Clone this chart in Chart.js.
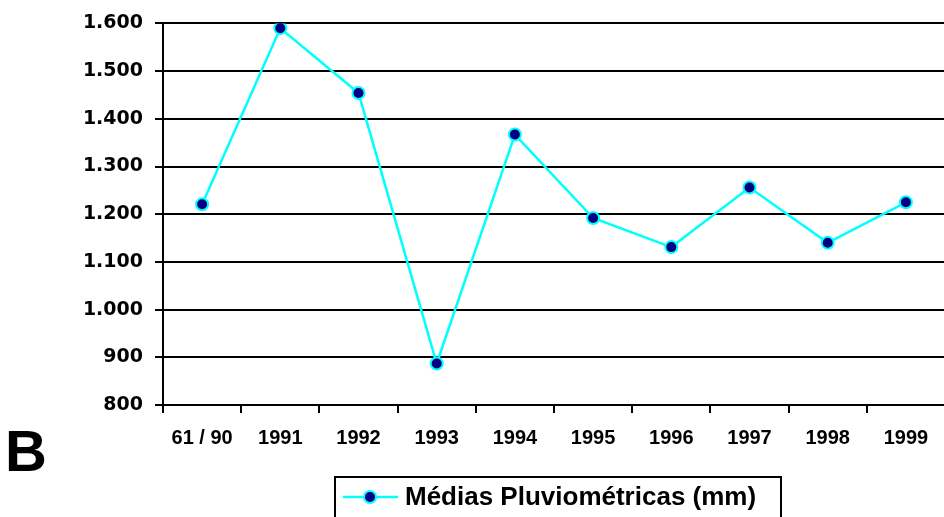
<!DOCTYPE html>
<html>
<head>
<meta charset="utf-8">
<script src="https://cdn.jsdelivr.net/npm/chart.js@4"></script>
<style>
  html, body { margin: 0; padding: 0; background: #fff; overflow: hidden; width: 944px; height: 517px; }
  #wrap { position: relative; width: 953px; height: 517px; }
</style>
</head>
<body>
<div id="wrap"><canvas id="grafico" width="953" height="517"></canvas></div>
<script>
// dados
const anos = ['61 / 90', '1991', '1992', '1993', '1994', '1995', '1996', '1997', '1998', '1999'];
const medias = [1221, 1590, 1454, 887, 1367, 1192, 1131, 1256, 1140, 1225];
const rotuloSerie = 'Médias Pluviométricas (mm)';
const letraPainel = 'B';

// formata 1600 -> 1.600
function formataMilhar(v) {
    return String(v).replace(/\B(?=(\d{3})+(?!\d))/g, '.');
}

// legenda com caixa e a letra do painel
const extras = {
    id: 'extras',
    afterDraw(chart) {
        const ctx = chart.ctx;
        const ds = chart.data.datasets[0];
        ctx.save();
        // letra B
        ctx.fillStyle = '#000';
        ctx.font = 'bold 58px "Liberation Sans", Arial, sans-serif';
        ctx.textBaseline = 'alphabetic';
        ctx.textAlign = 'left';
        ctx.fillText(letraPainel, 5, 471);

        // caixa da legenda (cortada embaixo)
        ctx.strokeStyle = '#000';
        ctx.lineWidth = 2;
        ctx.beginPath();
        ctx.moveTo(335, 530);
        ctx.lineTo(335, 477);
        ctx.lineTo(781, 477);
        ctx.lineTo(781, 530);
        ctx.stroke();

        // amostra da linha
        ctx.strokeStyle = ds.borderColor;
        ctx.lineWidth = ds.borderWidth;
        ctx.beginPath();
        ctx.moveTo(343, 497);
        ctx.lineTo(398, 497);
        ctx.stroke();
        ctx.beginPath();
        ctx.arc(370, 497, ds.pointRadius, 0, Math.PI * 2);
        ctx.fillStyle = ds.pointBackgroundColor;
        ctx.fill();
        ctx.lineWidth = ds.pointBorderWidth;
        ctx.strokeStyle = ds.pointBorderColor;
        ctx.stroke();

        ctx.fillStyle = '#000';
        ctx.font = 'bold 26px "Liberation Sans", Arial, sans-serif';
        ctx.textBaseline = 'middle';
        ctx.fillText(ds.label, 405, 498);
        ctx.restore();
    }
};

new Chart(document.getElementById('grafico'), {
    type: 'line',
    data: {
        labels: anos,
        datasets: [{
            label: rotuloSerie,
            data: medias,
            borderColor: '#00FFFF',
            borderWidth: 2.5,
            pointRadius: 6,
            pointBackgroundColor: '#000080',
            pointBorderColor: '#00FFFF',
            pointBorderWidth: 2,
            tension: 0
        }]
    },
    options: {
        responsive: false,
        animation: false,
        layout: { padding: { top: 20, left: 0, right: 0, bottom: 0 } },
        plugins: {
            legend: { display: false },
            tooltip: { enabled: false }
        },
        scales: {
            x: {
                offset: true,
                grid: {
                    offset: true,
                    drawOnChartArea: false,
                    drawTicks: true,
                    tickLength: 8,
                    color: '#000',
                    lineWidth: 2
                },
                border: { display: true, color: '#000', width: 2 },
                ticks: {
                    color: '#000',
                    padding: 13,
                    maxRotation: 0,
                    autoSkip: false,
                    font: { family: '"Liberation Sans", Arial, sans-serif', size: 20, weight: 'bold' }
                },
                afterFit(scale) { scale.height = 112; }
            },
            y: {
                min: 800,
                max: 1600,
                grid: {
                    color: '#000',
                    lineWidth: 2,
                    tickLength: 8
                },
                border: { display: true, color: '#000', width: 2 },
                ticks: {
                    stepSize: 100,
                    color: '#000',
                    padding: 12,
                    font: { family: '"DejaVu Sans", sans-serif', size: 19, weight: 'bold' },
                    callback: function(value) {
                        return formataMilhar(value);
                    }
                },
                afterFit(scale) { scale.width = 163; }
            }
        }
    },
    plugins: [extras]
});
</script>
</body>
</html>
